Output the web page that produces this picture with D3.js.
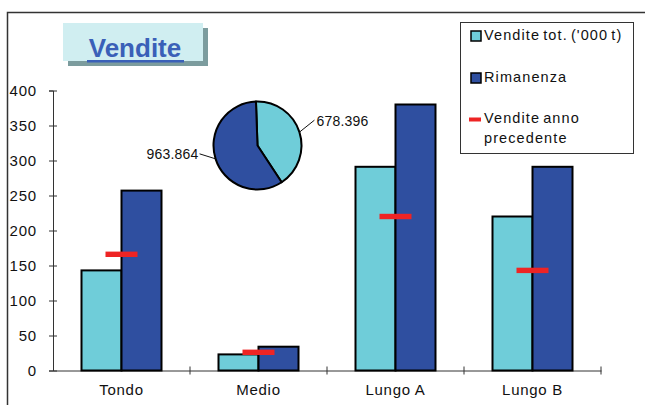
<!DOCTYPE html>
<html>
<head>
<meta charset="utf-8">
<script src="https://cdn.jsdelivr.net/npm/d3@7"></script>
<style>
  body{margin:0;background:#fff;}
  svg text{font-family:"Liberation Sans",Arial,sans-serif;fill:#111;}
</style>
</head>
<body>
<div id="grafico"></div>
<script>
const categorie=['Tondo','Medio','Lungo A','Lungo B'];
const vendite=[143,23,291,220]; //vendite tot ('000 t)
const rimanenza=[257,34,380,291];
const annoPrec=[166,26,220,143]; //trattini rossi
const nomiSerie=["Vendite tot. ('000 t)",'Rimanenza','Vendite anno','precedente'];
const torta=[678.396,963.864];
const yTicks=[0,50,100,150,200,250,300,350,400];

const chiaro='#6fcdd9', scuro='#2f4fa0', rosso='#ee2424';

const W=645,H=405;
const svg=d3.select('#grafico').append('svg').attr('width',W).attr('height',H);

//cornice
svg.append('rect').attr('x',7.5).attr('y',12.5).attr('width',660).attr('height',420)
   .attr('fill','none').attr('stroke','#333').attr('stroke-width',1.5);

//titolo
svg.append('rect').attr('x',68).attr('y',28).attr('width',140).attr('height',38).attr('fill','#7c9c9e');
svg.append('rect').attr('x',63).attr('y',23).attr('width',140).attr('height',38).attr('fill','#d0eef1');
svg.append('text').attr('x',135).attr('y',57).attr('text-anchor','middle')
   .style('font-size','26px').style('font-weight','bold').style('fill','#3a60b8')
   .text('Vendite');
svg.append('rect').attr('x',87).attr('y',60).attr('width',97).attr('height',2.5).attr('fill','#3a60b8');

const y=d3.scaleLinear().domain([0,400]).range([370.5,90.5]);
const x=d3.scaleBand().domain(categorie).range([53,601]);
const x1=d3.scaleBand().domain([0,1]).range([0,80]);
const off=(x.bandwidth()-80)/2;

//asse y
const ay=svg.append('g').attr('transform','translate(53,0)')
  .call(d3.axisLeft(y).tickValues(yTicks).tickSizeOuter(0).tickSize(4).tickPadding(12));
ay.select('.domain').attr('stroke','#333');
ay.selectAll('.tick line').attr('x1',-4).attr('x2',4).attr('stroke','#333');
ay.selectAll('.tick text').style('font-size','15px').style('letter-spacing','0.8px')
  .attr('dy','0.35em').attr('fill','#111');

//asse x
const ax=svg.append('g').attr('transform','translate(0,370.5)')
  .call(d3.axisBottom(x).tickSizeOuter(0).tickSize(0).tickPadding(14));
ax.select('.domain').attr('stroke','#333');
ax.selectAll('.tick text').style('font-size','15px').style('letter-spacing','0.7px')
  .attr('dy','0.71em').attr('fill','#111');
const confini=categorie.map(c=>x(c)+x.bandwidth());
ax.selectAll('.sep').data(confini).enter().append('line')
  .attr('x1',d=>d).attr('x2',d=>d).attr('y1',-4).attr('y2',4).attr('stroke','#333');

//barre
const gruppi=svg.selectAll('.gr').data(categorie).enter().append('g')
  .attr('transform',d=>'translate('+(x(d)+off)+',0)');
gruppi.each(function(c,i){
  const g=d3.select(this);
  [[vendite[i],chiaro],[rimanenza[i],scuro]].forEach((v,j)=>{
    g.append('rect').attr('x',x1(j)).attr('y',y(v[0])).attr('width',x1.bandwidth())
     .attr('height',y(0)-y(v[0])).attr('fill',v[1]).attr('stroke','#000').attr('stroke-width',2);
  });
});

//anno precedente
svg.selectAll('.prec').data(annoPrec).enter().append('rect')
  .attr('x',(d,i)=>x(categorie[i])+x.bandwidth()/2-16).attr('y',d=>y(d)-2.7)
  .attr('width',32).attr('height',5.4).attr('fill',rosso);

//torta
const cx=257.5, cy=145.5, r=44, a0=-0.035;
const pie=d3.pie().sort(null).startAngle(a0).endAngle(a0+2*Math.PI);
const arc=d3.arc().innerRadius(0).outerRadius(r);
const gt=svg.append('g').attr('transform','translate('+cx+','+cy+')');
const fette=pie(torta);
gt.selectAll('path').data(fette).enter().append('path').attr('d',arc)
  .attr('fill',(d,i)=>i?scuro:chiaro).attr('stroke','#000').attr('stroke-width',2).attr('stroke-linejoin','round');
fette.forEach(f=>{
  const a=(f.startAngle+f.endAngle)/2;
  const p=[Math.sin(a)*r,-Math.cos(a)*r];
  const dx=p[0]>0?15:-16, dy=p[0]>0?-12:-5;
  const e=[p[0]+dx,p[1]+dy];
  gt.append('line').attr('x1',p[0]).attr('y1',p[1]).attr('x2',e[0]).attr('y2',e[1])
    .attr('stroke','#111').attr('stroke-width',1);
  gt.append('text').attr('x',p[0]>0?e[0]+2:e[0]-1).attr('y',e[1]+(p[0]>0?6:5))
    .attr('text-anchor',p[0]>0?'start':'end')
    .style('font-size','14px').style('letter-spacing','0.2px')
    .text(d3.format('.3f')(f.data));
});

//legenda
const leg=svg.append('g');
leg.append('rect').attr('x',460.5).attr('y',22.5).attr('width',173).attr('height',131)
   .attr('fill','#fff').attr('stroke','#333').attr('stroke-width',1);
[chiaro,scuro].forEach((c,i)=>{
  leg.append('rect').attr('x',471).attr('y',[31,73][i]).attr('width',10).attr('height',10)
     .attr('fill',c).attr('stroke','#000').attr('stroke-width',1.5);
});
leg.append('rect').attr('x',469).attr('y',117.5).attr('width',12).attr('height',4).attr('fill',rosso);
const legY=[40,82,123,143];
nomiSerie.forEach((t,i)=>{
  leg.append('text').attr('x',484).attr('y',legY[i])
     .style('font-size','14.5px').style('letter-spacing','1.1px').style('word-spacing','-2px').text(t);
});
</script>
</body>
</html>
